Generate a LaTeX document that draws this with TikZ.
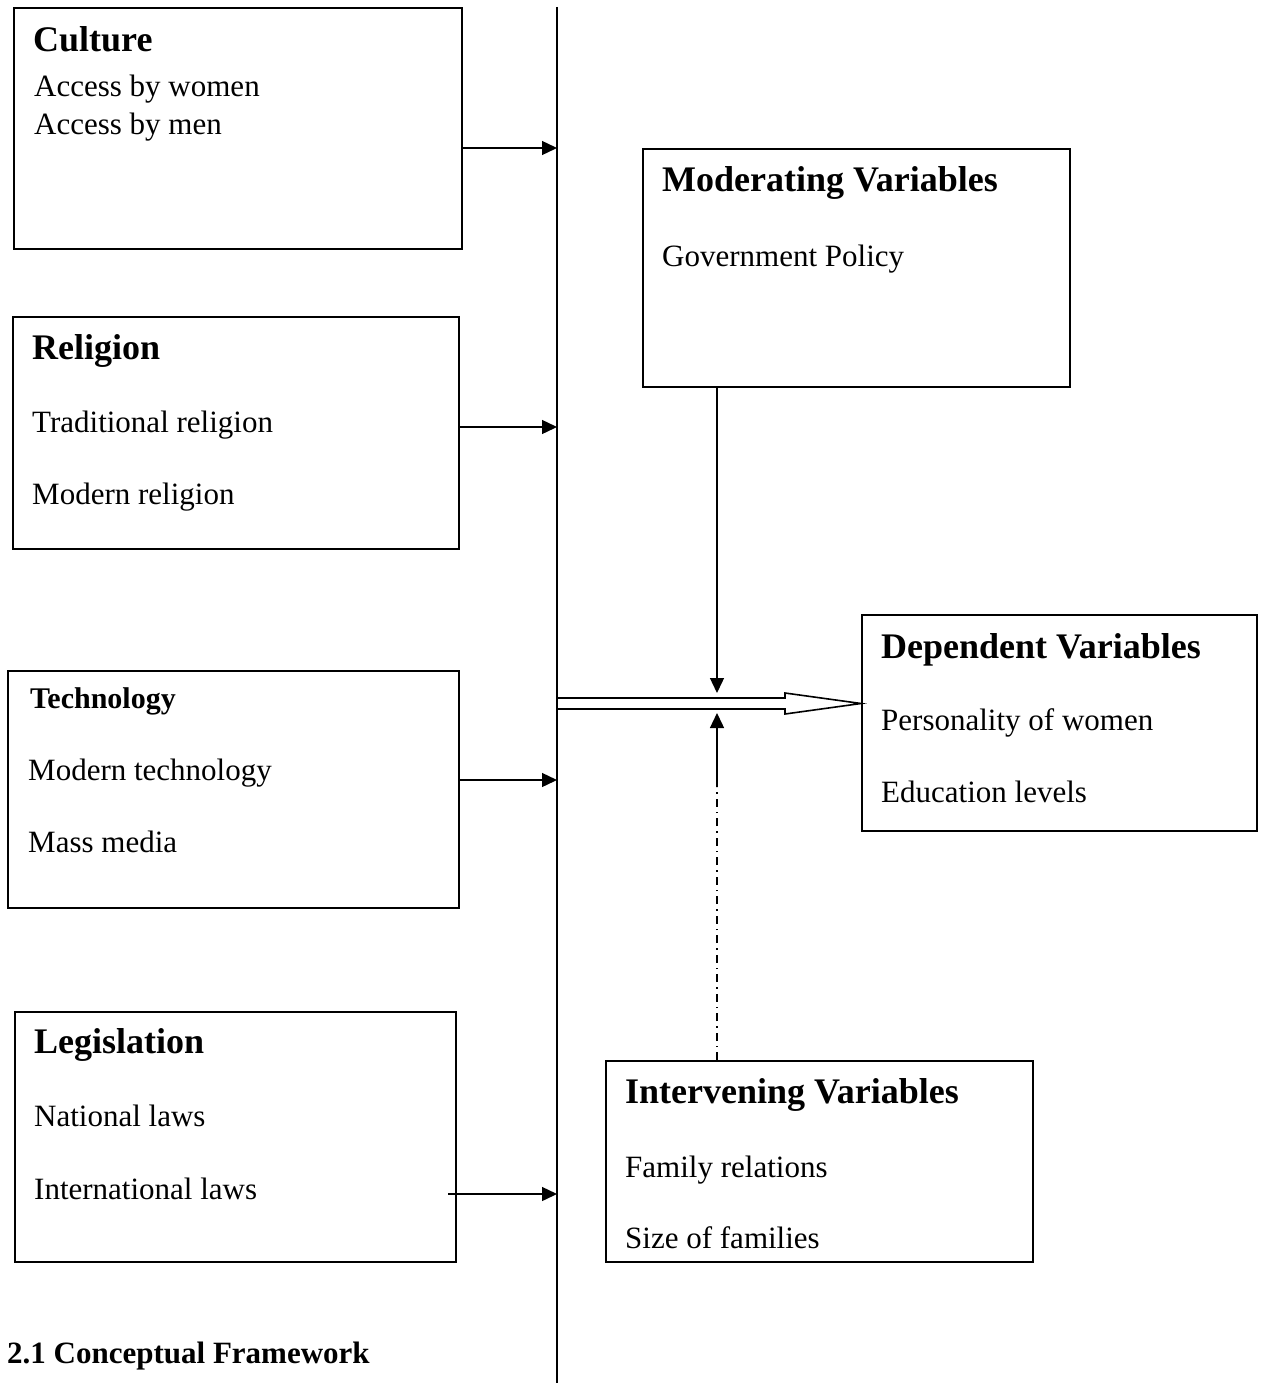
\documentclass[tikz,border=0pt]{standalone}
\usepackage{fontspec}
\setmainfont{Liberation Serif}
\usetikzlibrary{arrows.meta}
\begin{document}
\begin{tikzpicture}[x=1pt,y=-1pt,
  box/.style={draw,line width=1.6pt,rectangle,inner sep=0pt,anchor=north west},
  head/.style={anchor=base west,inner sep=0pt,font=\fontsize{36}{40}\selectfont\bfseries},
  smallhead/.style={anchor=base west,inner sep=0pt,font=\fontsize{30}{34}\selectfont\bfseries},
  body/.style={anchor=base west,inner sep=0pt,font=\fontsize{31}{36}\selectfont},
  arr/.style={line width=1.4pt,-{Triangle[length=15pt,width=14pt]}}]
\useasboundingbox (0,0) rectangle (1263,1383);
% boxes
\node[box,minimum width=448pt,minimum height=241pt] (culture) at (13,7) {};
\node[box,minimum width=446pt,minimum height=232pt] (religion) at (12,316) {};
\node[box,minimum width=451pt,minimum height=237pt] (tech) at (7,670) {};
\node[box,minimum width=441pt,minimum height=250pt] (legis) at (14,1011) {};
\node[box,minimum width=427pt,minimum height=238pt] (moder) at (642,148) {};
\node[box,minimum width=395pt,minimum height=216pt] (dep) at (861,614) {};
\node[box,minimum width=427pt,minimum height=201pt] (interv) at (605,1060) {};
% texts
\node[head] (t1) at (33,52) {Culture};
\node[body] (t2) at (34,97) {Access by women};
\node[body] (t3) at (34,135) {Access by men};
\node[head] (t4) at (32,359) {Religion};
\node[body] (t5) at (32,432) {Traditional religion};
\node[body] (t6) at (32,504) {Modern religion};
\node[smallhead] (t7) at (30,708) {Technology};
\node[body] (t8) at (28,780) {Modern technology};
\node[body] (t9) at (28,852) {Mass media};
\node[head] (t10) at (34,1053) {Legislation};
\node[body] (t11) at (34,1126) {National laws};
\node[body] (t12) at (34,1199) {International laws};
\node[head] (t13) at (662,192) {Moderating Variables};
\node[body] (t14) at (662,266) {Government Policy};
\node[head] (t15) at (881,658) {Dependent Variables};
\node[body] (t16) at (881,730) {Personality of women};
\node[body] (t17) at (881,802) {Education levels};
\node[head] (t18) at (625,1103) {Intervening Variables};
\node[body] (t19) at (625,1177) {Family relations};
\node[body] (t20) at (625,1248) {Size of families};
\node[anchor=base west,inner sep=0pt,font=\fontsize{31}{36}\selectfont\bfseries] (cap) at (7,1363) {2.1 Conceptual Framework};
% vertical line
\coordinate (vtop) at (557,7);
\coordinate (vbot) at (557,1383);
\draw[line width=1.6pt] (vtop) -- (vbot);
% arrows to vertical line
\coordinate (a1) at (557,148);
\coordinate (a2) at (557,427);
\coordinate (a3) at (557,780);
\coordinate (a4) at (557,1194);
\coordinate (a4s) at (448,1194);
\draw[arr] (culture.east |- a1) -- (a1);
\draw[arr] (religion.east |- a2) -- (a2);
\draw[arr] (tech.east |- a3) -- (a3);
\draw[arr] (a4s) -- (a4);
% double (hollow) arrow
\coordinate (h0) at (557,703.5);
\draw[line width=1.6pt,fill=white] (557,698) -- (785,698) -- (785,693) -- (dep.west |- h0) -- (785,714) -- (785,709) -- (557,709) -- cycle;
% moderating arrow
\coordinate (m1) at (717,386);
\coordinate (m2) at (717,693);
\draw[arr] (m1) -- (m2);
% intervening arrow
\coordinate (i1) at (717,1060);
\coordinate (i2) at (717,787);
\coordinate (i3) at (717,713);
\draw[line width=1.3pt,dash pattern=on 8pt off 5pt on 1.5pt off 5pt] (i1) -- (i2);
\draw[arr] (i2) -- (i3);
\end{tikzpicture}
\end{document}
